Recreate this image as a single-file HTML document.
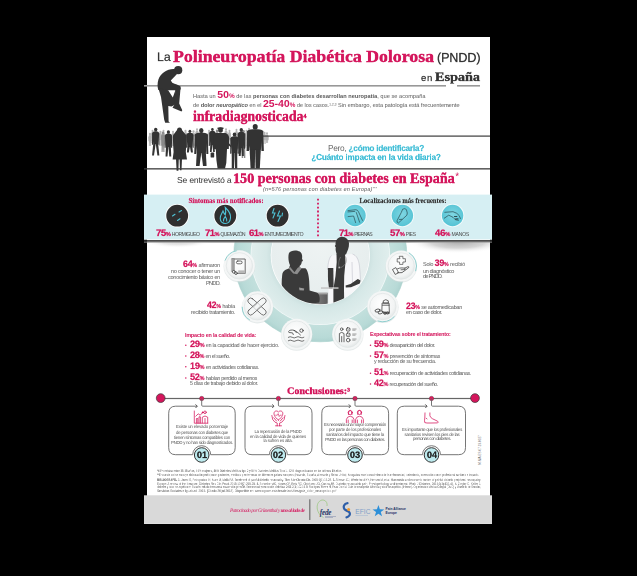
<!DOCTYPE html>
<html><head><meta charset="utf-8">
<style>
*{margin:0;padding:0;box-sizing:border-box}
html,body{width:637px;height:576px;background:#000;overflow:hidden}
body{position:relative;font-family:"Liberation Sans",sans-serif;color:#333}
svg.ov{position:absolute;left:0;top:0}
.a{position:absolute;white-space:nowrap;line-height:1;will-change:transform}
.pc{color:#d4165c;font-weight:bold;line-height:0}
.pc small{font-size:0.6em;letter-spacing:0}
sup{font-size:0.6em;vertical-align:0.5em;line-height:0}
b{font-weight:bold}
</style></head><body>
<svg class="ov" width="637" height="576" viewBox="0 0 637 576">
<defs>
<clipPath id="midclip"><rect x="144" y="241.5" width="348" height="130"/></clipPath>
<clipPath id="innerclip"><circle cx="320.3" cy="255.3" r="49"/></clipPath>
<radialGradient id="gInner" cx="0.5" cy="0.4" r="0.6"><stop offset="0" stop-color="#eef3f3"/><stop offset="0.85" stop-color="#e7eeee"/><stop offset="1" stop-color="#eef3f3"/></radialGradient>
<radialGradient id="gLight" cx="0.5" cy="0.5" r="0.5"><stop offset="0.70" stop-color="#cbe0df"/><stop offset="0.78" stop-color="#d6e8e7"/><stop offset="1" stop-color="#e0eeed"/></radialGradient>
<radialGradient id="gTeal" cx="0.5" cy="0.5" r="0.5"><stop offset="0.8" stop-color="#c3e0dd"/><stop offset="0.95" stop-color="#b8dad7"/><stop offset="1" stop-color="#aed3d0"/></radialGradient>
<radialGradient id="gIcon" cx="0.45" cy="0.4" r="0.6"><stop offset="0" stop-color="#ffffff"/><stop offset="0.8" stop-color="#f2f4f4"/><stop offset="1" stop-color="#e4e8e8"/></radialGradient>
<linearGradient id="gShadowL" x1="0" y1="0" x2="0" y2="1"><stop offset="0" stop-color="#bbb" stop-opacity="0.9"/><stop offset="1" stop-color="#fff" stop-opacity="0"/></linearGradient>
<linearGradient id="gBox" x1="0" y1="0" x2="1" y2="0"><stop offset="0" stop-color="#8a8a8a"/><stop offset="1" stop-color="#5d5d5d"/></linearGradient>
<radialGradient id="gCyan" cx="0.5" cy="0.45" r="0.55"><stop offset="0" stop-color="#7fd6e2"/><stop offset="1" stop-color="#55c3d4"/></radialGradient>
<radialGradient id="gSh" cx="0.5" cy="0.5" r="0.5"><stop offset="0" stop-color="#999" stop-opacity="0.85"/><stop offset="0.55" stop-color="#aaa" stop-opacity="0.5"/><stop offset="1" stop-color="#ffffff" stop-opacity="0"/></radialGradient>
<clipPath id="belowband"><rect x="147" y="242" width="343" height="20"/></clipPath>
</defs>
<rect x="147" y="37" width="343" height="459" fill="#fff"/>
<rect x="144" y="85" width="302" height="1.6" fill="#989898"/>
<rect x="457" y="85" width="23" height="1.6" fill="#989898"/>
<g fill="#333">
<circle cx="178.2" cy="70.2" r="4.1"/>
<path d="M175,69 C168,68.2 160.8,72.5 158.4,79.5 C157.3,83 157.3,87 158.3,90 L168.2,90.3 L175.5,90.3 L180.6,89.5 L180.6,86.5 C179,85 175,84 172.3,82.8 L170.8,80.5 L176.8,74.2 Z"/>
<path d="M158.3,88 L168.2,90.2 L172.8,97.6 L175.4,90.2 L175.4,104.5 L171.5,106.5 L168.3,106 L168.6,121.5 L170,122.8 L165.2,122.8 L164.2,119.8 L161,97 Z"/>
<path d="M175.2,90 L180.6,87.5 L179.2,103.5 L181,107.5 L182.3,110.3 L181.5,111.5 L172.5,107.8 L174.5,104.5 Z"/>
</g>
<ellipse cx="150" cy="134" rx="1.1" ry="1.265" fill="#b4b4b4"/><path d="M149.55,135.1 L150.45,135.1 Q151.5,135.5 151.5,137.29999999999998 L151.05,141 L148.95,141 L148.5,137.29999999999998 Q148.5,135.5 149.55,135.1 Z" fill="#b4b4b4"/><path d="M148.5,136.6 L148.35,141.295 L148.9,141.295 L149.0,137.6 Z" fill="#b4b4b4"/><path d="M151.5,136.6 L151.65,141.295 L151.1,141.295 L151.0,137.6 Z" fill="#b4b4b4"/><path d="M148.95,140.5 L150,140.5 L149.73749999999998,146 L148.9125,146 Z" fill="#b4b4b4"/><path d="M150,140.5 L151.05,140.5 L151.0875,146 L150.26250000000002,146 Z" fill="#b4b4b4"/>
<ellipse cx="160.5" cy="132" rx="1.1" ry="1.265" fill="#b4b4b4"/><path d="M160.02,133.1 L160.98,133.1 Q162.1,133.5 162.1,135.29999999999998 L161.62,140 L159.38,140 L158.9,135.29999999999998 Q158.9,133.5 160.02,133.1 Z" fill="#b4b4b4"/><path d="M158.9,134.6 L158.75,140.345 L159.3,140.345 L159.4,135.6 Z" fill="#b4b4b4"/><path d="M162.1,134.6 L162.25,140.345 L161.7,140.345 L161.6,135.6 Z" fill="#b4b4b4"/><path d="M159.38,139.5 L160.5,139.5 L160.22,146 L159.34,146 Z" fill="#b4b4b4"/><path d="M160.5,139.5 L161.62,139.5 L161.66,146 L160.78,146 Z" fill="#b4b4b4"/>
<ellipse cx="163.5" cy="131" rx="1" ry="1.15" fill="#b4b4b4"/><path d="M163.05,132.0 L163.95,132.0 Q165.0,132.4 165.0,134.2 L164.55,139 L162.45,139 L162.0,134.2 Q162.0,132.4 163.05,132.0 Z" fill="#b4b4b4"/><path d="M162.0,133.5 L161.85,139.35 L162.4,139.35 L162.5,134.5 Z" fill="#b4b4b4"/><path d="M165.0,133.5 L165.15,139.35 L164.6,139.35 L164.5,134.5 Z" fill="#b4b4b4"/><path d="M162.45,138.5 L163.5,138.5 L163.23749999999998,144 L162.4125,144 Z" fill="#b4b4b4"/><path d="M163.5,138.5 L164.55,138.5 L164.5875,144 L163.76250000000002,144 Z" fill="#b4b4b4"/>
<ellipse cx="185.5" cy="131" rx="1.1" ry="1.265" fill="#b4b4b4"/><path d="M185.02,132.1 L185.98,132.1 Q187.1,132.5 187.1,134.29999999999998 L186.62,140 L184.38,140 L183.9,134.29999999999998 Q183.9,132.5 185.02,132.1 Z" fill="#b4b4b4"/><path d="M183.9,133.6 L183.75,140.395 L184.3,140.395 L184.4,134.6 Z" fill="#b4b4b4"/><path d="M187.1,133.6 L187.25,140.395 L186.7,140.395 L186.6,134.6 Z" fill="#b4b4b4"/><path d="M184.38,139.5 L185.5,139.5 L185.22,147 L184.34,147 Z" fill="#b4b4b4"/><path d="M185.5,139.5 L186.62,139.5 L186.66,147 L185.78,147 Z" fill="#b4b4b4"/>
<ellipse cx="193.5" cy="131.5" rx="1.1" ry="1.265" fill="#b4b4b4"/><path d="M193.02,132.6 L193.98,132.6 Q195.1,133.0 195.1,134.79999999999998 L194.62,140 L192.38,140 L191.9,134.79999999999998 Q191.9,133.0 193.02,132.6 Z" fill="#b4b4b4"/><path d="M191.9,134.1 L191.75,140.37 L192.3,140.37 L192.4,135.1 Z" fill="#b4b4b4"/><path d="M195.1,134.1 L195.25,140.37 L194.7,140.37 L194.6,135.1 Z" fill="#b4b4b4"/><path d="M192.38,139.5 L193.5,139.5 L193.22,146 L192.34,146 Z" fill="#b4b4b4"/><path d="M193.5,139.5 L194.62,139.5 L194.66,146 L193.78,146 Z" fill="#b4b4b4"/>
<ellipse cx="264.5" cy="133" rx="1.1" ry="1.265" fill="#b4b4b4"/><path d="M264.02,134.1 L264.98,134.1 Q266.1,134.5 266.1,136.29999999999998 L265.62,140 L263.38,140 L262.9,136.29999999999998 Q262.9,134.5 264.02,134.1 Z" fill="#b4b4b4"/><path d="M262.9,135.6 L262.75,140.295 L263.29999999999995,140.295 L263.4,136.6 Z" fill="#b4b4b4"/><path d="M266.1,135.6 L266.25,140.295 L265.70000000000005,140.295 L265.6,136.6 Z" fill="#b4b4b4"/><path d="M263.38,139.5 L264.5,139.5 L264.21999999999997,144 L263.34,144 Z" fill="#b4b4b4"/><path d="M264.5,139.5 L265.62,139.5 L265.66,144 L264.78000000000003,144 Z" fill="#b4b4b4"/>
<ellipse cx="267" cy="133.5" rx="1" ry="1.15" fill="#b4b4b4"/><path d="M266.55,134.5 L267.45,134.5 Q268.5,134.9 268.5,136.7 L268.05,140 L265.95,140 L265.5,136.7 Q265.5,134.9 266.55,134.5 Z" fill="#b4b4b4"/><path d="M265.5,136.0 L265.35,140.275 L265.9,140.275 L266.0,137.0 Z" fill="#b4b4b4"/><path d="M268.5,136.0 L268.65,140.275 L268.1,140.275 L268.0,137.0 Z" fill="#b4b4b4"/><path d="M265.95,139.5 L267,139.5 L266.7375,143 L265.91249999999997,143 Z" fill="#b4b4b4"/><path d="M267,139.5 L268.05,139.5 L268.08750000000003,143 L267.2625,143 Z" fill="#b4b4b4"/>
<ellipse cx="173" cy="132" rx="1.0" ry="1.15" fill="#b4b4b4"/><path d="M172.55,133.0 L173.45,133.0 Q174.5,133.4 174.5,135.2 L174.05,140 L171.95,140 L171.5,135.2 Q171.5,133.4 172.55,133.0 Z" fill="#b4b4b4"/><path d="M171.5,134.5 L171.35,140.35 L171.9,140.35 L172.0,135.5 Z" fill="#b4b4b4"/><path d="M174.5,134.5 L174.65,140.35 L174.1,140.35 L174.0,135.5 Z" fill="#b4b4b4"/><path d="M171.95,139.5 L173,139.5 L172.73749999999998,146 L171.9125,146 Z" fill="#b4b4b4"/><path d="M173,139.5 L174.05,139.5 L174.0875,146 L173.26250000000002,146 Z" fill="#b4b4b4"/>
<ellipse cx="209" cy="131" rx="1.0" ry="1.15" fill="#b4b4b4"/><path d="M208.55,132.0 L209.45,132.0 Q210.5,132.4 210.5,134.2 L210.05,140 L207.95,140 L207.5,134.2 Q207.5,132.4 208.55,132.0 Z" fill="#b4b4b4"/><path d="M207.5,133.5 L207.35,140.4 L207.9,140.4 L208.0,134.5 Z" fill="#b4b4b4"/><path d="M210.5,133.5 L210.65,140.4 L210.1,140.4 L210.0,134.5 Z" fill="#b4b4b4"/><path d="M207.95,139.5 L209,139.5 L208.73749999999998,146 L207.9125,146 Z" fill="#b4b4b4"/><path d="M209,139.5 L210.05,139.5 L210.0875,146 L209.26250000000002,146 Z" fill="#b4b4b4"/>
<ellipse cx="229.5" cy="131" rx="1.0" ry="1.15" fill="#b4b4b4"/><path d="M229.05,132.0 L229.95,132.0 Q231.0,132.4 231.0,134.2 L230.55,140 L228.45,140 L228.0,134.2 Q228.0,132.4 229.05,132.0 Z" fill="#b4b4b4"/><path d="M228.0,133.5 L227.85,140.4 L228.4,140.4 L228.5,134.5 Z" fill="#b4b4b4"/><path d="M231.0,133.5 L231.15,140.4 L230.6,140.4 L230.5,134.5 Z" fill="#b4b4b4"/><path d="M228.45,139.5 L229.5,139.5 L229.23749999999998,146 L228.4125,146 Z" fill="#b4b4b4"/><path d="M229.5,139.5 L230.55,139.5 L230.5875,146 L229.76250000000002,146 Z" fill="#b4b4b4"/>
<ellipse cx="236.5" cy="130" rx="1.0" ry="1.15" fill="#b4b4b4"/><path d="M236.05,131.0 L236.95,131.0 Q238.0,131.4 238.0,133.2 L237.55,140 L235.45,140 L235.0,133.2 Q235.0,131.4 236.05,131.0 Z" fill="#b4b4b4"/><path d="M235.0,132.5 L234.85,140.45 L235.4,140.45 L235.5,133.5 Z" fill="#b4b4b4"/><path d="M238.0,132.5 L238.15,140.45 L237.6,140.45 L237.5,133.5 Z" fill="#b4b4b4"/><path d="M235.45,139.5 L236.5,139.5 L236.23749999999998,146 L235.4125,146 Z" fill="#b4b4b4"/><path d="M236.5,139.5 L237.55,139.5 L237.5875,146 L236.76250000000002,146 Z" fill="#b4b4b4"/>
<ellipse cx="246.5" cy="131" rx="1.0" ry="1.15" fill="#b4b4b4"/><path d="M246.05,132.0 L246.95,132.0 Q248.0,132.4 248.0,134.2 L247.55,140 L245.45,140 L245.0,134.2 Q245.0,132.4 246.05,132.0 Z" fill="#b4b4b4"/><path d="M245.0,133.5 L244.85,140.4 L245.4,140.4 L245.5,134.5 Z" fill="#b4b4b4"/><path d="M248.0,133.5 L248.15,140.4 L247.6,140.4 L247.5,134.5 Z" fill="#b4b4b4"/><path d="M245.45,139.5 L246.5,139.5 L246.23749999999998,146 L245.4125,146 Z" fill="#b4b4b4"/><path d="M246.5,139.5 L247.55,139.5 L247.5875,146 L246.76250000000002,146 Z" fill="#b4b4b4"/>
<ellipse cx="152.5" cy="131" rx="1.0" ry="1.15" fill="#b4b4b4"/><path d="M152.05,132.0 L152.95,132.0 Q154.0,132.4 154.0,134.2 L153.55,138 L151.45,138 L151.0,134.2 Q151.0,132.4 152.05,132.0 Z" fill="#b4b4b4"/><path d="M151.0,133.5 L150.85,138.3 L151.4,138.3 L151.5,134.5 Z" fill="#b4b4b4"/><path d="M154.0,133.5 L154.15,138.3 L153.6,138.3 L153.5,134.5 Z" fill="#b4b4b4"/><path d="M151.45,137.5 L152.5,137.5 L152.23749999999998,143 L151.4125,143 Z" fill="#b4b4b4"/><path d="M152.5,137.5 L153.55,137.5 L153.5875,143 L152.76250000000002,143 Z" fill="#b4b4b4"/>
<ellipse cx="197" cy="129.5" rx="1.0" ry="1.15" fill="#b4b4b4"/><path d="M196.55,130.5 L197.45,130.5 Q198.5,130.9 198.5,132.7 L198.05,137 L195.95,137 L195.5,132.7 Q195.5,130.9 196.55,130.5 Z" fill="#b4b4b4"/><path d="M195.5,132.0 L195.35,137.325 L195.9,137.325 L196.0,133.0 Z" fill="#b4b4b4"/><path d="M198.5,132.0 L198.65,137.325 L198.1,137.325 L198.0,133.0 Z" fill="#b4b4b4"/><path d="M195.95,136.5 L197,136.5 L196.73749999999998,142 L195.9125,142 Z" fill="#b4b4b4"/><path d="M197,136.5 L198.05,136.5 L198.0875,142 L197.26250000000002,142 Z" fill="#b4b4b4"/>
<ellipse cx="226" cy="129.5" rx="1.0" ry="1.15" fill="#b4b4b4"/><path d="M225.55,130.5 L226.45,130.5 Q227.5,130.9 227.5,132.7 L227.05,137 L224.95,137 L224.5,132.7 Q224.5,130.9 225.55,130.5 Z" fill="#b4b4b4"/><path d="M224.5,132.0 L224.35,137.325 L224.9,137.325 L225.0,133.0 Z" fill="#b4b4b4"/><path d="M227.5,132.0 L227.65,137.325 L227.1,137.325 L227.0,133.0 Z" fill="#b4b4b4"/><path d="M224.95,136.5 L226,136.5 L225.73749999999998,142 L224.9125,142 Z" fill="#b4b4b4"/><path d="M226,136.5 L227.05,136.5 L227.0875,142 L226.26250000000002,142 Z" fill="#b4b4b4"/>
<ellipse cx="249" cy="129" rx="1.0" ry="1.15" fill="#b4b4b4"/><path d="M248.55,130.0 L249.45,130.0 Q250.5,130.4 250.5,132.2 L250.05,137 L247.95,137 L247.5,132.2 Q247.5,130.4 248.55,130.0 Z" fill="#b4b4b4"/><path d="M247.5,131.5 L247.35,137.35 L247.9,137.35 L248.0,132.5 Z" fill="#b4b4b4"/><path d="M250.5,131.5 L250.65,137.35 L250.1,137.35 L250.0,132.5 Z" fill="#b4b4b4"/><path d="M247.95,136.5 L249,136.5 L248.73749999999998,142 L247.9125,142 Z" fill="#b4b4b4"/><path d="M249,136.5 L250.05,136.5 L250.0875,142 L249.26250000000002,142 Z" fill="#b4b4b4"/>
<ellipse cx="163" cy="133" rx="1.2" ry="1.38" fill="#8a8a8a"/><path d="M162.4,134.2 L163.6,134.2 Q165.0,134.6 165.0,136.39999999999998 L164.4,145 L161.6,145 L161.0,136.39999999999998 Q161.0,134.6 162.4,134.2 Z" fill="#8a8a8a"/><path d="M161.0,135.7 L160.832,145.54 L161.448,145.54 L161.56,136.7 Z" fill="#8a8a8a"/><path d="M165.0,135.7 L165.168,145.54 L164.552,145.54 L164.44,136.7 Z" fill="#8a8a8a"/><path d="M161.6,144.5 L163,144.5 L162.65,152 L161.54999999999998,152 Z" fill="#8a8a8a"/><path d="M163,144.5 L164.4,144.5 L164.45000000000002,152 L163.35,152 Z" fill="#8a8a8a"/>
<ellipse cx="217" cy="131" rx="1.2" ry="1.38" fill="#8a8a8a"/><path d="M216.4,132.2 L217.6,132.2 Q219.0,132.6 219.0,134.39999999999998 L218.4,143 L215.6,143 L215.0,134.39999999999998 Q215.0,132.6 216.4,132.2 Z" fill="#8a8a8a"/><path d="M215.0,133.7 L214.832,143.54 L215.448,143.54 L215.56,134.7 Z" fill="#8a8a8a"/><path d="M219.0,133.7 L219.168,143.54 L218.552,143.54 L218.44,134.7 Z" fill="#8a8a8a"/><path d="M215.6,142.5 L217,142.5 L216.65,150 L215.54999999999998,150 Z" fill="#8a8a8a"/><path d="M217,142.5 L218.4,142.5 L218.45000000000002,150 L217.35,150 Z" fill="#8a8a8a"/>
<ellipse cx="243.5" cy="131.5" rx="1.3" ry="1.4949999999999999" fill="#8a8a8a"/><path d="M242.75,132.8 L244.25,132.8 Q246.0,133.20000000000002 246.0,135.0 L245.25,147 L241.75,147 L241.0,135.0 Q241.0,133.20000000000002 242.75,132.8 Z" fill="#8a8a8a"/><path d="M241.0,134.3 L240.79,147.71 L241.56,147.71 L241.7,135.3 Z" fill="#8a8a8a"/><path d="M246.0,134.3 L246.21,147.71 L245.44,147.71 L245.3,135.3 Z" fill="#8a8a8a"/><path d="M241.75,146.5 L243.5,146.5 L243.0625,158 L241.6875,158 Z" fill="#8a8a8a"/><path d="M243.5,146.5 L245.25,146.5 L245.3125,158 L243.9375,158 Z" fill="#8a8a8a"/>
<ellipse cx="155.7" cy="129.6" rx="1.7" ry="1.9549999999999998" fill="#333"/><path d="M154.64999999999998,131.29999999999998 L156.75,131.29999999999998 Q159.2,131.7 159.2,133.49999999999997 L158.14999999999998,144 L153.25,144 L152.2,133.49999999999997 Q152.2,131.7 154.64999999999998,131.29999999999998 Z" fill="#333"/><path d="M152.2,132.79999999999998 L151.90599999999998,144.635 L152.98399999999998,144.635 L153.17999999999998,133.79999999999998 Z" fill="#333"/><path d="M159.2,132.79999999999998 L159.494,144.635 L158.416,144.635 L158.22,133.79999999999998 Z" fill="#333"/><path d="M153.25,143.5 L155.7,143.5 L153.98499999999999,155.5 L152.05999999999997,155.5 Z" fill="#333"/><path d="M155.7,143.5 L158.14999999999998,143.5 L159.34,155.5 L157.415,155.5 Z" fill="#333"/>
<ellipse cx="168.4" cy="132" rx="1.6" ry="1.8399999999999999" fill="#333"/><path d="M167.35,133.6 L169.45000000000002,133.6 Q171.9,134.0 171.9,135.79999999999998 L170.85,147 L165.95000000000002,147 L164.9,135.79999999999998 Q164.9,134.0 167.35,133.6 Z" fill="#333"/><path d="M164.9,135.1 L164.606,147.67000000000002 L165.684,147.67000000000002 L165.88,136.1 Z" fill="#333"/><path d="M171.9,135.1 L172.19400000000002,147.67000000000002 L171.116,147.67000000000002 L170.92000000000002,136.1 Z" fill="#333"/><path d="M165.95000000000002,146.5 L168.4,146.5 L167.47250000000003,156.5 L165.5475,156.5 Z" fill="#333"/><path d="M168.4,146.5 L170.85,146.5 L171.2525,156.5 L169.3275,156.5 Z" fill="#333"/>
<ellipse cx="179.5" cy="130.4" rx="2.5" ry="2.9" fill="#333"/>
<path d="M176.6,130.5 Q179.5,127.6 182.4,130.5 L184.8,133.5 Q186.6,134.5 186.6,137 L186.2,146 L185.8,152 L187,159.5 L172.6,159.5 L173.6,152 L173.2,146 L172.8,137 Q172.8,134.5 174.4,133.5 Z" fill="#333"/>
<path d="M176,159 L178.8,159 L178.4,170.8 L176.6,170.8 Z M179.6,159 L182,159 L181.5,170.3 L180,170.3 Z" fill="#333"/>
<ellipse cx="189.9" cy="131.3" rx="1.4" ry="1.6099999999999999" fill="#333"/><path d="M188.85,132.70000000000002 L190.95000000000002,132.70000000000002 Q193.4,133.10000000000002 193.4,134.9 L192.35,147 L187.45000000000002,147 L186.4,134.9 Q186.4,133.10000000000002 188.85,132.70000000000002 Z" fill="#333"/><path d="M186.4,134.20000000000002 L186.106,147.715 L187.184,147.715 L187.38,135.20000000000002 Z" fill="#333"/><path d="M193.4,134.20000000000002 L193.69400000000002,147.715 L192.616,147.715 L192.42000000000002,135.20000000000002 Z" fill="#333"/><path d="M187.45000000000002,146.5 L189.9,146.5 L188.815,152.5 L186.89,152.5 Z" fill="#333"/><path d="M189.9,146.5 L192.35,146.5 L192.91000000000003,152.5 L190.985,152.5 Z" fill="#333"/>
<ellipse cx="201.3" cy="130.6" rx="2.2" ry="2.53" fill="#333"/><path d="M199.35000000000002,132.79999999999998 L203.25,132.79999999999998 Q207.8,133.2 207.8,134.99999999999997 L205.85000000000002,153 L196.75,153 L194.8,134.99999999999997 Q194.8,133.2 199.35000000000002,132.79999999999998 Z" fill="#333"/><path d="M194.8,134.29999999999998 L194.25400000000002,154.01 L196.256,154.01 L196.62,135.29999999999998 Z" fill="#333"/><path d="M207.8,134.29999999999998 L208.346,154.01 L206.34400000000002,154.01 L205.98000000000002,135.29999999999998 Z" fill="#333"/><path d="M196.75,152.5 L201.3,152.5 L199.57750000000001,166 L196.00250000000003,166 Z" fill="#333"/><path d="M201.3,152.5 L205.85000000000002,152.5 L206.5975,166 L203.0225,166 Z" fill="#333"/>
<ellipse cx="212.4" cy="129.4" rx="1.3" ry="1.4949999999999999" fill="#333"/><path d="M211.5,130.70000000000002 L213.3,130.70000000000002 Q215.4,131.10000000000002 215.4,132.9 L214.5,145 L210.3,145 L209.4,132.9 Q209.4,131.10000000000002 211.5,130.70000000000002 Z" fill="#333"/><path d="M209.4,132.20000000000002 L209.148,145.715 L210.072,145.715 L210.24,133.20000000000002 Z" fill="#333"/><path d="M215.4,132.20000000000002 L215.65200000000002,145.715 L214.728,145.715 L214.56,133.20000000000002 Z" fill="#333"/><path d="M210.3,144.5 L212.4,144.5 L211.605,152 L209.955,152 Z" fill="#333"/><path d="M212.4,144.5 L214.5,144.5 L214.845,152 L213.19500000000002,152 Z" fill="#333"/>
<rect x="210.6" y="152.6" width="3.6" height="5" rx="0.9" fill="#333"/>
<ellipse cx="220.5" cy="130" rx="2.4" ry="2.7" fill="#333"/>
<rect x="217.3" y="127.4" width="6.4" height="1.5" rx="0.75" fill="#333"/>
<path d="M215.5,133 L225.5,133 Q228.8,134 229.2,138 L228.8,149 L227,149 L226.3,163 L225,168.5 L217.6,168.5 L216.4,160 L215.8,149 L213,149 L213.4,138 Q213.8,134 215.5,133 Z" fill="#333"/>
<ellipse cx="234.5" cy="134.5" rx="1.8" ry="2.07" fill="#333"/><path d="M233.3,136.3 L235.7,136.3 Q238.5,136.70000000000002 238.5,138.5 L237.3,153 L231.7,153 L230.5,138.5 Q230.5,136.70000000000002 233.3,136.3 Z" fill="#333"/><path d="M230.5,137.8 L230.164,153.835 L231.396,153.835 L231.62,138.8 Z" fill="#333"/><path d="M238.5,137.8 L238.836,153.835 L237.604,153.835 L237.38,138.8 Z" fill="#333"/><path d="M231.7,152.5 L234.5,152.5 L233.98,168.5 L231.78,168.5 Z" fill="#333"/><path d="M234.5,152.5 L237.3,152.5 L237.22,168.5 L235.02,168.5 Z" fill="#333"/>
<path d="M228.8,143 L231.5,146 L230.8,147.3 L228.2,145 Z" fill="#333"/>
<ellipse cx="241.3" cy="130" rx="1.7" ry="1.9549999999999998" fill="#333"/><path d="M240.25,131.7 L242.35000000000002,131.7 Q244.8,132.1 244.8,133.89999999999998 L243.75,148 L238.85000000000002,148 L237.8,133.89999999999998 Q237.8,132.1 240.25,131.7 Z" fill="#333"/><path d="M237.8,133.2 L237.506,148.815 L238.584,148.815 L238.78,134.2 Z" fill="#333"/><path d="M244.8,133.2 L245.09400000000002,148.815 L244.01600000000002,148.815 L243.82000000000002,134.2 Z" fill="#333"/><path d="M238.85000000000002,147.5 L241.3,147.5 L240.68750000000003,156 L238.76250000000002,156 Z" fill="#333"/><path d="M241.3,147.5 L243.75,147.5 L243.8375,156 L241.9125,156 Z" fill="#333"/>
<ellipse cx="255.2" cy="126.8" rx="2.5" ry="2.875" fill="#333"/><path d="M252.79999999999998,129.3 L257.59999999999997,129.3 Q263.2,129.70000000000002 263.2,131.5 L260.8,150 L249.6,150 L247.2,131.5 Q247.2,129.70000000000002 252.79999999999998,129.3 Z" fill="#333"/><path d="M247.2,130.8 L246.528,151.035 L248.992,151.035 L249.44,131.8 Z" fill="#333"/><path d="M263.2,130.8 L263.872,151.035 L261.408,151.035 L260.96,131.8 Z" fill="#333"/><path d="M249.6,149.5 L255.2,149.5 L254.77999999999997,168.5 L250.57999999999998,168.5 Z" fill="#333"/><path d="M255.2,149.5 L260.8,149.5 L259.82,168.5 L255.61999999999998,168.5 Z" fill="#333"/>
<rect x="263" y="135.5" width="227" height="1.2" fill="#3c3c3c"/>
<rect x="144" y="168.2" width="346" height="1.3" fill="#3c3c3c"/>
<g clip-path="url(#midclip)">
<circle cx="320.3" cy="255.3" r="86.5" fill="url(#gTeal)" stroke="#a9d1cd" stroke-width="0.6"/>
<circle cx="320.3" cy="255.3" r="69.7" fill="#f3f9f9"/>
<circle cx="320.3" cy="255.3" r="69" fill="url(#gLight)"/>
<circle cx="320.3" cy="255.3" r="49.6" fill="#ffffff"/>
<circle cx="320.3" cy="255.3" r="49" fill="url(#gInner)"/>
<g clip-path="url(#innerclip)">
<rect x="311.2" y="292.8" width="16.5" height="14" fill="url(#gBox)"/>
<rect x="311.2" y="292.8" width="16.5" height="1.6" fill="#a5a5a5"/>
<path d="M289,253 C290.5,250.2 296.5,249.6 299.8,251.6 C302.3,253.4 302.4,256.5 302,258.5 L303,261 L301.8,261.6 C301.6,263.6 301,265.3 299.5,266 L300.2,268.3 L305.4,268.3 C307.6,270 308.8,275 309.2,281 L309.6,290.5 L316.5,292.5 C319.8,293.3 320.3,299 319.2,302.5 L312,303.5 L300,303.5 L288,303 L284,302 C281.6,294 281.2,283 282.2,275 C282.8,271 285,269.8 288.8,268.6 L290,265.3 C288.5,262 287.8,256.5 289,253 Z" fill="#3a3a3a"/>
<path d="M289.8,266.5 L294.5,272.2 L297.5,268 L299.8,266.6 L301.5,268.6 L297.2,274.2 L293.2,273.5 L288.8,268.6 Z" fill="#8c8c8c"/>
<path d="M299,287.5 L304.2,288.6 L303.8,290.6 L299.5,290.3 Z" fill="#9a9a9a"/>
<path d="M331.5,255.5 L352.5,254 C356.5,255.5 358.5,259 359.5,266 L360.5,280 L359,289 L358.5,306 L329.3,306 L328.5,290 L327.7,270 C328,262 329.5,257.5 331.5,255.5 Z" fill="#f7f7f9"/>
<path d="M331.5,255.5 C329.5,257.5 328,262 327.7,270 M352.5,254 C356.5,255.5 358.5,259 359.5,266 L360.5,280 M359,289 L358.5,306 M352,262 L352.5,283" fill="none" stroke="#b9b9c4" stroke-width="0.5"/>
<path d="M336.5,254 L345,254 L345.5,262 L344.2,276 L344,289 L344.2,306 L333.4,306 L333.4,289 L335.5,276 L336.7,262 Z" fill="#3a3a3a"/>
<path d="M327.9,268 L333.3,268 L333.6,286.5 L331.8,288.8 L329,288.5 L328,280 Z" fill="#3a3a3a"/>
<path d="M357.8,279 L360.6,280.5 L359.8,283.5 L351,287.2 L345.8,287.6 L345.6,285.6 L350.5,284 Z" fill="#3a3a3a"/>
<rect x="321" y="287.3" width="17.5" height="1.5" fill="#c4c4c4"/>
<path d="M340.5,257 C338.2,261 338.5,265 339.2,267 M345.5,256.5 C347.5,261 346,265 341,267.5" fill="none" stroke="#8a8a8a" stroke-width="0.6"/>
<circle cx="339.3" cy="267.5" r="1.1" fill="#bdbdbd" stroke="#555" stroke-width="0.4"/>
</g>
</g>
<rect x="144" y="194.6" width="348" height="44.8" fill="#d6eff3"/>
<rect x="144" y="239.4" width="348" height="0.8" fill="#eef7f9"/>
<rect x="144" y="240.2" width="348" height="1.5" fill="#1e1e1e"/>
<rect x="144" y="241.7" width="348" height="0.9" fill="#8a8a8a"/>
<g clip-path="url(#belowband)"><ellipse cx="178" cy="241" rx="34" ry="7" fill="url(#gSh)" opacity="0.55"/><ellipse cx="458" cy="241.5" rx="50" ry="12" fill="url(#gSh)" opacity="1"/></g>
<path d="M336.8,254.5 C336,252 335.2,249 335.8,247.5 L334.8,246 L335.6,244.8 C335.3,241 337,237.5 341,236.9 C345.5,236.4 348.8,239.5 349,243.5 C349.2,247.5 347.5,251 346,254.5 Z" fill="#3a3a3a"/>
<line x1="318" y1="198.7" x2="318" y2="237" stroke="#d4165c" stroke-width="1.8" stroke-dasharray="1.8 2.17"/>
<circle cx="177.2" cy="215.7" r="11.8" fill="#fff"/>
<circle cx="177.2" cy="215.7" r="10.9" fill="#2f2f2f"/>
<circle cx="225.3" cy="215.7" r="11.8" fill="#fff"/>
<circle cx="225.3" cy="215.7" r="10.9" fill="#2f2f2f"/>
<circle cx="277.6" cy="215.7" r="11.8" fill="#fff"/>
<circle cx="277.6" cy="215.7" r="10.9" fill="#2f2f2f"/>
<g stroke="#4fc3d6" stroke-width="1.1" stroke-linecap="round" fill="none">
<line x1="172.5" y1="216" x2="175" y2="214.3"/><line x1="179" y1="212" x2="181.5" y2="210.6"/><line x1="177.5" y1="220.5" x2="180" y2="218.8"/>
<path d="M225.3,207.5 C229,211 231,214 230.5,218 C230,222 227.5,223.5 225.3,223.5 C222.5,223.5 220.2,221.5 220.2,218.3 C220.2,215 222,213.5 223,211 C224,213.5 224.5,214.5 225.3,215 C226,212 225.8,210 225.3,207.5 Z"/>
<path d="M223.5,221 C223,219 224.5,217.5 225.3,216.5 C226.3,218 227.2,219.5 226.7,221"/>
<path d="M274,208.5 L272.5,213 L275,213 L273,218 M279.5,211 L277.5,216 L280.5,216 L278,221.5 M282.5,213 L282,216"/>
</g>
<circle cx="355" cy="215.5" r="11.7" fill="#f2fafb"/>
<circle cx="355" cy="215.5" r="10.7" fill="url(#gCyan)"/>
<circle cx="402.4" cy="215.5" r="11.7" fill="#f2fafb"/>
<circle cx="402.4" cy="215.5" r="10.7" fill="url(#gCyan)"/>
<circle cx="452.6" cy="215.5" r="11.7" fill="#f2fafb"/>
<circle cx="452.6" cy="215.5" r="10.7" fill="url(#gCyan)"/>
<g stroke="#2a4a50" stroke-width="0.7" fill="none" stroke-linecap="round" stroke-linejoin="round">
<path d="M348,210.6 L355.8,209.7 Q357.6,209.8 358.5,211.8 L362.5,220.4 M356.3,212.5 L359.6,222.2 M348,211.9 L354.8,211.4 M348.1,216.6 L353.6,216 L355.6,222.6"/>
<path d="M403,209 Q405,207.8 406.4,209.6 L407.3,213 L406.9,215.2 L398.4,223 Q396.5,222.5 397.1,220.6 L401,213 Z M399.5,219.5 L402,219.3"/>
<path d="M444.8,212.3 L453,211.7 Q457.5,213 459.2,215.6 L460.4,218.6 M444.3,218.2 L448.7,215.2 L453,217.3 L455.5,219.8 L458.5,220.3"/>
<path d="M454.5,216.5 L456.8,216.5 M455.5,219.2 L458,218.8" stroke-width="1.2"/>
</g>
<circle cx="239.4" cy="266.6" r="15.8" fill="#cfd9d9" opacity="0.55"/>
<circle cx="239.4" cy="265.8" r="15.5" fill="#f4f6f6"/>
<circle cx="239.4" cy="265.8" r="13.2" fill="url(#gIcon)" stroke="#e1e6e6" stroke-width="0.8"/>
<circle cx="257.5" cy="307.6" r="15.8" fill="#cfd9d9" opacity="0.55"/>
<circle cx="257.5" cy="306.8" r="15.5" fill="#f4f6f6"/>
<circle cx="257.5" cy="306.8" r="13.2" fill="url(#gIcon)" stroke="#e1e6e6" stroke-width="0.8"/>
<circle cx="296.7" cy="335.0" r="15.8" fill="#cfd9d9" opacity="0.55"/>
<circle cx="296.7" cy="334.2" r="15.5" fill="#f4f6f6"/>
<circle cx="296.7" cy="334.2" r="13.2" fill="url(#gIcon)" stroke="#e1e6e6" stroke-width="0.8"/>
<circle cx="347.7" cy="335.0" r="15.8" fill="#cfd9d9" opacity="0.55"/>
<circle cx="347.7" cy="334.2" r="15.5" fill="#f4f6f6"/>
<circle cx="347.7" cy="334.2" r="13.2" fill="url(#gIcon)" stroke="#e1e6e6" stroke-width="0.8"/>
<circle cx="382.8" cy="307.3" r="15.8" fill="#cfd9d9" opacity="0.55"/>
<circle cx="382.8" cy="306.5" r="15.5" fill="#f4f6f6"/>
<circle cx="382.8" cy="306.5" r="13.2" fill="url(#gIcon)" stroke="#e1e6e6" stroke-width="0.8"/>
<circle cx="401.2" cy="266.8" r="15.8" fill="#cfd9d9" opacity="0.55"/>
<circle cx="401.2" cy="266" r="15.5" fill="#f4f6f6"/>
<circle cx="401.2" cy="266" r="13.2" fill="url(#gIcon)" stroke="#e1e6e6" stroke-width="0.8"/>
<path d="M225.02,260.57 A15.3,15.3 0 0 1 236.74,250.73" fill="none" stroke="#8fcfcf" stroke-width="1"/>
<path d="M408.85,252.75 A15.3,15.3 0 0 1 415.58,271.23" fill="none" stroke="#8fcfcf" stroke-width="1"/>
<path d="M394.52,316.33 A15.3,15.3 0 0 1 377.57,320.88" fill="none" stroke="#8fcfcf" stroke-width="1"/>
<path d="M249.85,320.05 A15.3,15.3 0 0 1 242.20,306.80" fill="none" stroke="#8fcfcf" stroke-width="1"/>
<g stroke="#3a3a3a" stroke-width="0.75" fill="none" stroke-linejoin="round" stroke-linecap="round">
<path d="M232.2,259 L245.2,259 L245.2,273.5 L234.5,273.5" />
<rect x="231.8" y="258.6" width="2.6" height="13" fill="#a0a0a0" stroke="#6a6a6a" stroke-width="0.4"/>
<rect x="238.2" y="270.4" width="7" height="3.1" fill="#b8b8b8" stroke="none"/>
<rect x="236.4" y="261" width="5.7" height="2.8" rx="1.4"/>
<circle cx="233.8" cy="271.8" r="1.4" fill="#f4f6f6"/><circle cx="236" cy="273.2" r="1.3" fill="#f4f6f6"/>
<g transform="translate(257,306.5)">
<rect x="-11.3" y="-2.8" width="22.6" height="5.6" rx="2.8" transform="rotate(42)" fill="#f4f6f6" stroke="#555" stroke-width="0.75"/>
<rect x="-11.3" y="-2.8" width="22.6" height="5.6" rx="2.8" transform="rotate(-42)" fill="#f4f6f6" stroke="#555" stroke-width="0.75"/>
<rect x="-3" y="-2" width="6" height="4" transform="rotate(-42)" fill="none" stroke="#aaa" stroke-width="0.4" stroke-dasharray="0.6 0.6"/>
</g>
<circle cx="301.5" cy="330.6" r="1.7"/>
<path d="M288.5,331.4 C289,329.8 292.5,329.8 294,330.3 C295.8,331 298,332.5 300.5,335 M289,332.5 L292.6,332.9 L293.3,334.6 M294,330.3 L296.5,332.8" />
<path d="M288.3,337.3 Q290.2,336 292.2,337.3 T296.1,337.3 T300,337.3 T303.9,337.3 M288.3,340.7 Q290.2,339.4 292.2,340.7 T296.1,340.7 T300,340.7 T303.9,340.7" stroke-width="0.7"/>
<circle cx="341.7" cy="329.2" r="1.3"/>
<path d="M339.4,341.8 L339.4,333.5 Q341.7,331.2 344,333.5 L344,341.8 M341.7,336.5 L341.7,341.8"/>
<rect x="346.4" y="327.8" width="3.6" height="3.4" rx="1.2"/><rect x="346.4" y="333" width="3.6" height="3.6" rx="1.2"/><circle cx="348.2" cy="340.1" r="1.8"/>
<path d="M347.2,329.6 L348,330.4 L349.5,328.6 M347.2,334.9 L348,335.7 L349.5,333.9" stroke-width="0.45"/>
<path d="M352.3,329 L356.5,329 M352.3,330.2 L355.5,330.2 M352.3,334 L356.5,334 M352.3,335.2 L355.5,335.2 M352.3,339 L356.5,339 M352.3,340.2 L355.5,340.2" stroke="#8a8a8a" stroke-width="0.8" stroke-linecap="butt"/>
<path d="M383.3,302.8 L383.3,300.8 Q385.8,298.6 388.3,300.8 L388.3,302.8 Z M382.5,303 L389,303 L389.4,312.3 L382.2,312.3 Z M382.5,305.2 L389.2,305.2"/>
<ellipse cx="377.5" cy="310.5" rx="2.6" ry="1.4" transform="rotate(-15 377.5 310.5)" fill="#f4f6f6"/>
<ellipse cx="380.5" cy="312.4" rx="2.6" ry="1.4" transform="rotate(-15 380.5 312.4)" fill="#f4f6f6"/>
<ellipse cx="385" cy="313.2" rx="1.5" ry="1.1" fill="#777"/><ellipse cx="387.6" cy="313" rx="1.5" ry="1.1" fill="#777"/>
<path d="M399.6,256.3 L402.9,256.3 L402.9,258.7 L405.4,258.7 L405.4,262 L402.9,262 L402.9,264.4 L399.6,264.4 L399.6,262 L397.2,262 L397.2,258.7 L399.6,258.7 Z" stroke-width="0.65"/>
<path d="M397.5,268.8 Q399.5,267.8 402,267.9 L404.8,268.2 Q406,268.7 405,269.6 L401,269.8 M397.5,272.8 L402,272.6 L408.6,267.8 Q409.5,266.6 408,266.6 L404.6,268.2"/>
<path d="M392.8,269.3 L395.8,267.6 L398.6,272.6 L395.6,274.3 Z"/>
</g>
<circle cx="185.8" cy="345.3" r="0.75" fill="#d4165c"/>
<circle cx="185.8" cy="356" r="0.75" fill="#d4165c"/>
<circle cx="185.8" cy="366.7" r="0.75" fill="#d4165c"/>
<circle cx="185.8" cy="378" r="0.75" fill="#d4165c"/>
<circle cx="370.5" cy="345.2" r="0.75" fill="#d4165c"/>
<circle cx="370.5" cy="355.9" r="0.75" fill="#d4165c"/>
<circle cx="370.5" cy="373.2" r="0.75" fill="#d4165c"/>
<circle cx="370.5" cy="383.9" r="0.75" fill="#d4165c"/>
<rect x="160" y="397.9" width="316" height="1.2" fill="#666"/>
<circle cx="160.7" cy="398.1" r="4.4" fill="#d4165c" stroke="#3a3a3a" stroke-width="0.7"/>
<circle cx="475" cy="398.1" r="4.4" fill="#d4165c" stroke="#3a3a3a" stroke-width="0.7"/>
<circle cx="201.7" cy="398.5" r="2.2" fill="#e8155c" stroke="#3a3a3a" stroke-width="0.4"/>
<path d="M201.7,398.1 L201.7,405.2 Q201.7,406.2 202.7,406.2 L228.2,406.2 Q235.2,406.2 235.2,413.2 L235.2,447.7 Q235.2,454.7 228.2,454.7 L210.7,454.7 A9,9 0 0 0 192.7,454.7 L175.7,454.7 Q168.7,454.7 168.7,447.7 L168.7,413.2 Q168.7,406.2 175.7,406.2 L197.2,406.2" fill="none" stroke="#666" stroke-width="0.9"/>
<path d="M195.5,404.4 L197.29999999999998,406.2 L195.5,408.0" fill="none" stroke="#333" stroke-width="0.8"/>
<circle cx="201.7" cy="455.0" r="7.3" fill="#bdeaee" stroke="#333" stroke-width="1"/>
<circle cx="278.4" cy="398.5" r="2.2" fill="#e8155c" stroke="#3a3a3a" stroke-width="0.4"/>
<path d="M278.4,398.1 L278.4,405.2 Q278.4,406.2 279.4,406.2 L305,406.2 Q312,406.2 312,413.2 L312,447.7 Q312,454.7 305,454.7 L287.4,454.7 A9,9 0 0 0 269.4,454.7 L252,454.7 Q245,454.7 245,447.7 L245,413.2 Q245,406.2 252,406.2 L273.9,406.2" fill="none" stroke="#666" stroke-width="0.9"/>
<path d="M272.2,404.4 L274.0,406.2 L272.2,408.0" fill="none" stroke="#333" stroke-width="0.8"/>
<circle cx="278.4" cy="455.0" r="7.3" fill="#bdeaee" stroke="#333" stroke-width="1"/>
<circle cx="355" cy="398.5" r="2.2" fill="#e8155c" stroke="#3a3a3a" stroke-width="0.4"/>
<path d="M355,398.1 L355,405.2 Q355,406.2 356,406.2 L381.6,406.2 Q388.6,406.2 388.6,413.2 L388.6,447.7 Q388.6,454.7 381.6,454.7 L364,454.7 A9,9 0 0 0 346,454.7 L328.8,454.7 Q321.8,454.7 321.8,447.7 L321.8,413.2 Q321.8,406.2 328.8,406.2 L350.5,406.2" fill="none" stroke="#666" stroke-width="0.9"/>
<path d="M348.8,404.4 L350.6,406.2 L348.8,408.0" fill="none" stroke="#333" stroke-width="0.8"/>
<circle cx="355" cy="455.0" r="7.3" fill="#bdeaee" stroke="#333" stroke-width="1"/>
<circle cx="431.5" cy="398.5" r="2.2" fill="#e8155c" stroke="#3a3a3a" stroke-width="0.4"/>
<path d="M431.5,398.1 L431.5,405.2 Q431.5,406.2 432.5,406.2 L458.5,406.2 Q465.5,406.2 465.5,413.2 L465.5,447.7 Q465.5,454.7 458.5,454.7 L440.5,454.7 A9,9 0 0 0 422.5,454.7 L404.3,454.7 Q397.3,454.7 397.3,447.7 L397.3,413.2 Q397.3,406.2 404.3,406.2 L427.0,406.2" fill="none" stroke="#666" stroke-width="0.9"/>
<path d="M425.3,404.4 L427.1,406.2 L425.3,408.0" fill="none" stroke="#333" stroke-width="0.8"/>
<circle cx="431.5" cy="455.0" r="7.3" fill="#bdeaee" stroke="#333" stroke-width="1"/>
<g stroke="#d4165c" stroke-width="0.75" fill="none" stroke-linecap="round" stroke-linejoin="round">
<path d="M194.3,411 L194.3,423.2 L207.8,423.2 M196.4,423 L196.4,418.5 L197.8,418.5 L197.8,423 M199,423 L199,416.8 L200.4,416.8 L200.4,423 M195.8,416.2 L198.2,413.8 L200.2,415.2 L202.6,412.6"/>
<circle cx="205" cy="412.3" r="1.3"/>
<path d="M202.3,423 L202.3,417.2 Q205,414.8 207.7,417.2 L207.7,423 M205,418.5 L205,423"/>
<circle cx="202.8" cy="412.4" r="0.6" fill="#d4165c"/>
<path d="M278.4,420 C272.8,416.2 273,411.2 276.2,411 C277.4,410.9 278.1,411.6 278.4,412.2 C278.7,411.6 279.4,410.9 280.6,411 C283.8,411.2 284,416.2 278.4,420 Z"/>
<path d="M275.6,415.2 L277.3,415.2 L278.2,413.6 L279.2,416.6 L280,415.2 L281.3,415.2" stroke-width="0.6"/>
<path d="M271.8,415.5 Q272,420.5 275,422.2 L277.2,423 L277.2,425.8 M285,415.5 Q284.8,420.5 281.8,422.2 L279.6,423 L279.6,425.8 M273.8,417.8 L276.5,421 M283,417.8 L280.3,421 M275.5,425.8 L278,425.8 M279,425.8 L281.5,425.8"/>
<circle cx="350.2" cy="412.6" r="2.1"/><circle cx="359.5" cy="412.4" r="2.1"/>
<path d="M346.4,422.6 L346.4,419.5 Q347,416.5 350.2,416.2 Q353.4,416.5 354,419.5 L354,422.6 M348.2,422.6 L348.2,420 M352.2,422.6 L352.2,420 M348.4,414.5 Q348,411 350.2,410.4 Q352.4,411 352,414.5"/>
<path d="M355.6,422.6 L355.6,419.5 Q356.2,416.5 359.5,416.2 Q362.8,416.5 363.4,419.5 L363.4,422.6 M357.4,422.6 L357.4,420 M361.6,422.6 L361.6,420 M357.7,414.5 Q357.3,411 359.5,410.2 Q361.7,411 361.3,414.5"/>
<path d="M425,412.9 L424.8,418 Q424.2,421 424.8,422.6 Q426,423.2 431,423 L437.6,422.9 Q439,422.2 437.6,421.2 L432.6,418.8 Q430.4,417.6 429.9,415.8 L429.9,412.9 M426.2,418.2 L427,418.9"/>
</g>
<text x="480.6" y="464.8" transform="rotate(-90 480.6 464.8)" font-family="Liberation Sans" font-size="3.2" fill="#6a6a6a" textLength="29.5" lengthAdjust="spacingAndGlyphs">M-N/A-ES-07-19-0027</text>
<rect x="144" y="495.3" width="348" height="28.5" fill="#d9d9d9"/>
<rect x="144" y="523" width="348" height="0.8" fill="#ececec"/>
<rect x="309.2" y="499.3" width="1.2" height="20.7" fill="#6e6e6e"/>
<path d="M323.5,517.5 C318.5,515 316.2,509 317.5,504.5 C318.5,501 321.5,499.5 324,500.2 C326.5,501 327.5,503.5 327,506" fill="none" stroke="#8cc26a" stroke-width="0.6"/>
<text x="319.8" y="515.2" font-family="Liberation Serif" font-style="italic" font-weight="bold" font-size="7.2" fill="#27386a" letter-spacing="-0.2">fede</text>
<rect x="325" y="516.3" width="11" height="0.5" fill="#7a86a8"/><rect x="325" y="517.5" width="8" height="0.5" fill="#7a86a8"/>
<path d="M347.5,503.2 C344,503.5 342.8,507 344.6,509.3 C346,511 348.5,510.8 349.5,512.5 C350.6,514.5 349,517 346.5,517.3" fill="none" stroke="#2d5ea8" stroke-width="2.2" stroke-linecap="round"/>
<circle cx="348.6" cy="509.6" r="1.5" fill="#f39a2a"/>
<text x="355.2" y="514" font-family="Liberation Sans" font-size="6.6" fill="#7f9fc8" letter-spacing="0.1">EFIC</text>
<rect x="355.5" y="515.4" width="12.5" height="0.5" fill="#9fb4d0"/>
<polygon points="378.40,505.10 379.87,509.28 384.30,509.38 380.78,512.07 382.04,516.32 378.40,513.80 374.76,516.32 376.02,512.07 372.50,509.38 376.93,509.28" fill="#2c8fd8"/>
<text x="385.5" y="509.8" font-family="Liberation Sans" font-weight="bold" font-size="3.3" fill="#1d2f66">Pain Alliance</text>
<text x="385.5" y="513.8" font-family="Liberation Sans" font-weight="bold" font-size="3.3" fill="#1d2f66">Europe</text>
</svg>
<div class="a" style="left:156.50px;top:41.40px;font-family:'Liberation Sans',sans-serif;font-size:24.600px;font-weight:normal;color:#333;letter-spacing:0.000px;transform:translateX(0) scale(0.50000,0.50000);transform-origin:0 20px;-webkit-text-stroke:0.400px currentColor;">La</div>
<div class="a" style="left:173.00px;top:33.60px;font-family:'Liberation Serif',serif;font-size:33.600px;font-weight:bold;color:#d4165c;letter-spacing:0.000px;transform:translateX(0) scale(0.52929,0.50000);transform-origin:0 28px;-webkit-text-stroke:0.900px currentColor;">Polineuropatía Diabética Dolorosa</div>
<div class="a" style="left:436.50px;top:40.80px;font-family:'Liberation Sans',sans-serif;font-size:25.000px;font-weight:normal;color:#333;letter-spacing:-0.083px;transform:translateX(0) scale(0.50000,0.50000);transform-origin:0 21px;-webkit-text-stroke:0.600px currentColor;">(PNDD)</div>
<div class="a" style="left:420.50px;top:64.60px;font-family:'Liberation Sans',sans-serif;font-size:19.000px;font-weight:normal;color:#333;letter-spacing:1.430px;transform:translateX(0) scale(0.50000,0.50000);transform-origin:0 16px;-webkit-text-stroke:0.500px currentColor;">en</div>
<div class="a" style="left:434.50px;top:59.60px;font-family:'Liberation Serif',serif;font-size:25.000px;font-weight:bold;color:#333;letter-spacing:0.000px;transform:translateX(0) scale(0.56805,0.50000);transform-origin:0 21px;-webkit-text-stroke:0.700px currentColor;">España</div>
<div class="a" style="left:193.00px;top:89.40px;font-family:'Liberation Sans',sans-serif;font-size:11.200px;font-weight:normal;color:#575757;letter-spacing:0.079px;transform:translateX(0) scale(0.50000,0.50000);transform-origin:0 9px;">Hasta un <b class="pc" style="font-size:21.000px">50<small>%</small></b> de las <b>personas con diabetes desarrollan neuropatía</b>, que se acompaña</div>
<div class="a" style="left:193.00px;top:98.30px;font-family:'Liberation Sans',sans-serif;font-size:11.200px;font-weight:normal;color:#575757;letter-spacing:-0.047px;transform:translateX(0) scale(0.50000,0.50000);transform-origin:0 9px;">de <b>dolor <i>neuropático</i></b> en el <b class="pc" style="font-size:21.000px">25-40<small>%</small></b> de los casos.<sup>1,2,3</sup> Sin embargo, esta patología está frecuentemente</div>
<div class="a" style="left:193.00px;top:97.00px;font-family:'Liberation Serif',serif;font-size:29.000px;font-weight:bold;color:#d4165c;letter-spacing:0.000px;transform:translateX(0) scale(0.47583,0.50000);transform-origin:0 24px;-webkit-text-stroke:0.800px currentColor;">infradiagnosticada<sup style="font-size:13.000px">4</sup></div>
<div class="a" style="left:376.00px;top:136.60px;font-family:'Liberation Sans',sans-serif;font-size:16.400px;font-weight:bold;color:#3ebdd6;letter-spacing:-0.463px;transform:translateX(-50%) scale(0.50000,0.50000);transform-origin:50% 14px;-webkit-text-stroke:0.400px currentColor;"><span style="color:#666;font-weight:normal;-webkit-text-stroke:0">Pero, </span>¿cómo identificarla?</div>
<div class="a" style="left:376.00px;top:146.40px;font-family:'Liberation Sans',sans-serif;font-size:16.400px;font-weight:bold;color:#3ebdd6;letter-spacing:-0.339px;transform:translateX(-50%) scale(0.50000,0.50000);transform-origin:50% 14px;-webkit-text-stroke:0.400px currentColor;">¿Cuánto impacta en la vida diaria?</div>
<div class="a" style="left:177.00px;top:169.00px;font-family:'Liberation Sans',sans-serif;font-size:17.000px;font-weight:normal;color:#333;letter-spacing:-0.294px;transform:translateX(0) scale(0.50000,0.50000);transform-origin:0 14px;">Se entrevistó a</div>
<div class="a" style="left:233.00px;top:159.20px;font-family:'Liberation Serif',serif;font-size:29.200px;font-weight:bold;color:#d4165c;letter-spacing:0.000px;transform:translateX(0) scale(0.48399,0.50000);transform-origin:0 24px;-webkit-text-stroke:0.900px currentColor;">150 personas con diabetes en España<sup style="font-size:20.000px;font-family:Liberation Sans;font-weight:normal;-webkit-text-stroke:0;vertical-align:0.35em;margin-left:1.000px">*</sup></div>
<div class="a" style="left:263.00px;top:181.60px;font-family:'Liberation Sans',sans-serif;font-size:10.800px;font-weight:normal;color:#555;letter-spacing:0.439px;transform:translateX(0) scale(0.50000,0.50000);transform-origin:0 9px;font-style:italic">(n=576 personas con diabetes en Europa)<sup>***</sup></div>
<div class="a" style="left:225.50px;top:190.80px;font-family:'Liberation Serif',serif;font-size:14.400px;font-weight:bold;color:#d4165c;letter-spacing:0.000px;transform:translateX(-50%) scale(0.46665,0.50000);transform-origin:50% 12px;-webkit-text-stroke:0.400px currentColor;">Síntomas más notificados:</div>
<div class="a" style="left:402.50px;top:190.80px;font-family:'Liberation Serif',serif;font-size:14.400px;font-weight:bold;color:#333;letter-spacing:0.000px;transform:translateX(-50%) scale(0.45990,0.50000);transform-origin:50% 12px;-webkit-text-stroke:0.400px currentColor;">Localizaciones más frecuentes:</div>
<div class="a" style="left:156.30px;top:228.00px;font-family:'Liberation Sans',sans-serif;font-size:10.200px;font-weight:normal;color:#4a4a4a;letter-spacing:-0.950px;transform:translateX(0) scale(0.50000,0.50000);transform-origin:0 8px;"><b class="pc" style="font-size:19.200px;-webkit-text-stroke:0.500px #d4165c">75<small>%</small></b> HORMIGUEO</div>
<div class="a" style="left:205.30px;top:228.00px;font-family:'Liberation Sans',sans-serif;font-size:10.200px;font-weight:normal;color:#4a4a4a;letter-spacing:-1.208px;transform:translateX(0) scale(0.50000,0.50000);transform-origin:0 8px;"><b class="pc" style="font-size:19.200px;-webkit-text-stroke:0.500px #d4165c">71<small>%</small></b> QUEMAZÓN</div>
<div class="a" style="left:248.60px;top:228.00px;font-family:'Liberation Sans',sans-serif;font-size:10.200px;font-weight:normal;color:#4a4a4a;letter-spacing:-1.122px;transform:translateX(0) scale(0.50000,0.50000);transform-origin:0 8px;"><b class="pc" style="font-size:19.200px;-webkit-text-stroke:0.500px #d4165c">61<small>%</small></b> ENTUMECIMIENTO</div>
<div class="a" style="left:338.80px;top:228.30px;font-family:'Liberation Sans',sans-serif;font-size:10.200px;font-weight:normal;color:#4a4a4a;letter-spacing:-1.315px;transform:translateX(0) scale(0.50000,0.50000);transform-origin:0 8px;"><b class="pc" style="font-size:19.200px;-webkit-text-stroke:0.500px #d4165c">71<small>%</small></b> PIERNAS</div>
<div class="a" style="left:389.80px;top:228.30px;font-family:'Liberation Sans',sans-serif;font-size:10.200px;font-weight:normal;color:#4a4a4a;letter-spacing:-0.949px;transform:translateX(0) scale(0.50000,0.50000);transform-origin:0 8px;"><b class="pc" style="font-size:19.200px;-webkit-text-stroke:0.500px #d4165c">57<small>%</small></b> PIES</div>
<div class="a" style="left:435.40px;top:228.30px;font-family:'Liberation Sans',sans-serif;font-size:10.200px;font-weight:normal;color:#4a4a4a;letter-spacing:-0.474px;transform:translateX(0) scale(0.50000,0.50000);transform-origin:0 8px;"><b class="pc" style="font-size:19.200px;-webkit-text-stroke:0.500px #d4165c">46<small>%</small></b> MANOS</div>
<div class="a" style="left:220.00px;top:257.60px;font-family:'Liberation Sans',sans-serif;font-size:11.000px;font-weight:normal;color:#575757;letter-spacing:-0.374px;transform:translateX(-100%) scale(0.50000,0.50000);transform-origin:100% 9px;"><b class="pc" style="font-size:17.600px;-webkit-text-stroke:0.400px #d4165c">64<small>%</small></b> afirmaron</div>
<div class="a" style="left:220.00px;top:264.10px;font-family:'Liberation Sans',sans-serif;font-size:11.000px;font-weight:normal;color:#575757;letter-spacing:-0.430px;transform:translateX(-100%) scale(0.50000,0.50000);transform-origin:100% 9px;">no conocer o tener un</div>
<div class="a" style="left:220.00px;top:270.20px;font-family:'Liberation Sans',sans-serif;font-size:11.000px;font-weight:normal;color:#575757;letter-spacing:-0.499px;transform:translateX(-100%) scale(0.50000,0.50000);transform-origin:100% 9px;">conocimiento básico en</div>
<div class="a" style="left:220.00px;top:275.60px;font-family:'Liberation Sans',sans-serif;font-size:11.000px;font-weight:normal;color:#575757;letter-spacing:-1.247px;transform:translateX(-100%) scale(0.50000,0.50000);transform-origin:100% 9px;">PNDD.</div>
<div class="a" style="left:235.00px;top:299.00px;font-family:'Liberation Sans',sans-serif;font-size:11.000px;font-weight:normal;color:#575757;letter-spacing:-0.444px;transform:translateX(-100%) scale(0.50000,0.50000);transform-origin:100% 9px;"><b class="pc" style="font-size:17.600px;-webkit-text-stroke:0.400px #d4165c">42<small>%</small></b> había</div>
<div class="a" style="left:235.00px;top:305.40px;font-family:'Liberation Sans',sans-serif;font-size:11.000px;font-weight:normal;color:#575757;letter-spacing:-0.556px;transform:translateX(-100%) scale(0.50000,0.50000);transform-origin:100% 9px;">recibido tratamiento.</div>
<div class="a" style="left:422.50px;top:257.20px;font-family:'Liberation Sans',sans-serif;font-size:11.000px;font-weight:normal;color:#575757;letter-spacing:-0.368px;transform:translateX(0) scale(0.50000,0.50000);transform-origin:0 9px;">Solo <b class="pc" style="font-size:17.600px;-webkit-text-stroke:0.400px #d4165c">39<small>%</small></b> recibió</div>
<div class="a" style="left:422.50px;top:263.50px;font-family:'Liberation Sans',sans-serif;font-size:11.000px;font-weight:normal;color:#575757;letter-spacing:-0.640px;transform:translateX(0) scale(0.50000,0.50000);transform-origin:0 9px;">un diagnóstico</div>
<div class="a" style="left:422.50px;top:269.00px;font-family:'Liberation Sans',sans-serif;font-size:11.000px;font-weight:normal;color:#575757;letter-spacing:-1.441px;transform:translateX(0) scale(0.50000,0.50000);transform-origin:0 9px;">de PNDD.</div>
<div class="a" style="left:406.00px;top:299.60px;font-family:'Liberation Sans',sans-serif;font-size:11.000px;font-weight:normal;color:#575757;letter-spacing:-0.523px;transform:translateX(0) scale(0.50000,0.50000);transform-origin:0 9px;"><b class="pc" style="font-size:17.600px;-webkit-text-stroke:0.400px #d4165c">23<small>%</small></b> se automedicaban</div>
<div class="a" style="left:406.00px;top:305.20px;font-family:'Liberation Sans',sans-serif;font-size:11.000px;font-weight:normal;color:#575757;letter-spacing:-0.694px;transform:translateX(0) scale(0.50000,0.50000);transform-origin:0 9px;">en caso de dolor.</div>
<div class="a" style="left:185.00px;top:327.50px;font-family:'Liberation Sans',sans-serif;font-size:10.800px;font-weight:bold;color:#d4165c;letter-spacing:-0.367px;transform:translateX(0) scale(0.50000,0.50000);transform-origin:0 9px;">Impacto en la calidad de vida:</div>
<div class="a" style="left:369.80px;top:327.20px;font-family:'Liberation Sans',sans-serif;font-size:10.800px;font-weight:bold;color:#d4165c;letter-spacing:-0.436px;transform:translateX(0) scale(0.50000,0.50000);transform-origin:0 9px;">Expectativas sobre el tratamiento:</div>
<div class="a" style="left:190.00px;top:338.20px;font-family:'Liberation Sans',sans-serif;font-size:10.600px;font-weight:normal;color:#575757;letter-spacing:-0.483px;transform:translateX(0) scale(0.50000,0.50000);transform-origin:0 9px;"><b class="pc" style="font-size:18.400px;-webkit-text-stroke:0.400px #d4165c">29<small>%</small></b> en la capacidad de hacer ejercicio.</div>
<div class="a" style="left:190.00px;top:349.00px;font-family:'Liberation Sans',sans-serif;font-size:10.600px;font-weight:normal;color:#575757;letter-spacing:-0.729px;transform:translateX(0) scale(0.50000,0.50000);transform-origin:0 9px;"><b class="pc" style="font-size:18.400px;-webkit-text-stroke:0.400px #d4165c">28<small>%</small></b> en el sueño.</div>
<div class="a" style="left:190.00px;top:359.70px;font-family:'Liberation Sans',sans-serif;font-size:10.600px;font-weight:normal;color:#575757;letter-spacing:-0.571px;transform:translateX(0) scale(0.50000,0.50000);transform-origin:0 9px;"><b class="pc" style="font-size:18.400px;-webkit-text-stroke:0.400px #d4165c">19<small>%</small></b> en actividades cotidianas.</div>
<div class="a" style="left:190.00px;top:370.90px;font-family:'Liberation Sans',sans-serif;font-size:10.600px;font-weight:normal;color:#575757;letter-spacing:-0.609px;transform:translateX(0) scale(0.50000,0.50000);transform-origin:0 9px;"><b class="pc" style="font-size:18.400px;-webkit-text-stroke:0.400px #d4165c">52<small>%</small></b> habían perdido al menos</div>
<div class="a" style="left:190.00px;top:376.10px;font-family:'Liberation Sans',sans-serif;font-size:10.600px;font-weight:normal;color:#575757;letter-spacing:-0.522px;transform:translateX(0) scale(0.50000,0.50000);transform-origin:0 9px;">5 días de trabajo debido al dolor.</div>
<div class="a" style="left:374.00px;top:338.10px;font-family:'Liberation Sans',sans-serif;font-size:10.600px;font-weight:normal;color:#575757;letter-spacing:-0.663px;transform:translateX(0) scale(0.50000,0.50000);transform-origin:0 9px;"><b class="pc" style="font-size:18.400px;-webkit-text-stroke:0.400px #d4165c">59<small>%</small></b> desaparición del dolor.</div>
<div class="a" style="left:374.00px;top:348.80px;font-family:'Liberation Sans',sans-serif;font-size:10.600px;font-weight:normal;color:#575757;letter-spacing:-0.549px;transform:translateX(0) scale(0.50000,0.50000);transform-origin:0 9px;"><b class="pc" style="font-size:18.400px;-webkit-text-stroke:0.400px #d4165c">57<small>%</small></b> prevención de síntomas</div>
<div class="a" style="left:374.00px;top:354.30px;font-family:'Liberation Sans',sans-serif;font-size:10.600px;font-weight:normal;color:#575757;letter-spacing:-0.476px;transform:translateX(0) scale(0.50000,0.50000);transform-origin:0 9px;">y reducción de su frecuencia.</div>
<div class="a" style="left:374.00px;top:366.10px;font-family:'Liberation Sans',sans-serif;font-size:10.600px;font-weight:normal;color:#575757;letter-spacing:-0.588px;transform:translateX(0) scale(0.50000,0.50000);transform-origin:0 9px;"><b class="pc" style="font-size:18.400px;-webkit-text-stroke:0.400px #d4165c">51<small>%</small></b> recuperación de actividades cotidianas.</div>
<div class="a" style="left:374.00px;top:376.80px;font-family:'Liberation Sans',sans-serif;font-size:10.600px;font-weight:normal;color:#575757;letter-spacing:-0.704px;transform:translateX(0) scale(0.50000,0.50000);transform-origin:0 9px;"><b class="pc" style="font-size:18.400px;-webkit-text-stroke:0.400px #d4165c">42<small>%</small></b> recuperación del sueño.</div>
<div class="a" style="left:286.50px;top:377.60px;font-family:'Liberation Serif',serif;font-size:19.600px;font-weight:bold;color:#d4165c;letter-spacing:0.000px;transform:translateX(0) scale(0.51639,0.50000);transform-origin:0 16px;-webkit-text-stroke:0.800px currentColor;">Conclusiones:<sup style="font-size:11.000px">3</sup></div>
<div class="a" style="left:201.70px;top:421.40px;font-family:'Liberation Sans',sans-serif;font-size:8.600px;font-weight:normal;color:#555;letter-spacing:-0.227px;transform:translateX(-50%) scale(0.50000,0.50000);transform-origin:50% 7px;">Existe un elevado porcentaje</div>
<div class="a" style="left:201.70px;top:426.50px;font-family:'Liberation Sans',sans-serif;font-size:8.600px;font-weight:normal;color:#555;letter-spacing:-0.398px;transform:translateX(-50%) scale(0.50000,0.50000);transform-origin:50% 7px;">de personas con diabetes que</div>
<div class="a" style="left:201.70px;top:431.50px;font-family:'Liberation Sans',sans-serif;font-size:8.600px;font-weight:normal;color:#555;letter-spacing:-0.424px;transform:translateX(-50%) scale(0.50000,0.50000);transform-origin:50% 7px;">tienen síntomas compatibles con</div>
<div class="a" style="left:201.70px;top:436.50px;font-family:'Liberation Sans',sans-serif;font-size:8.600px;font-weight:normal;color:#555;letter-spacing:-0.470px;transform:translateX(-50%) scale(0.50000,0.50000);transform-origin:50% 7px;">PNDD y no han sido diagnosticados.</div>
<div class="a" style="left:278.40px;top:425.50px;font-family:'Liberation Sans',sans-serif;font-size:8.600px;font-weight:normal;color:#555;letter-spacing:-0.425px;transform:translateX(-50%) scale(0.50000,0.50000);transform-origin:50% 7px;">La repercusión de la PNDD</div>
<div class="a" style="left:278.40px;top:430.50px;font-family:'Liberation Sans',sans-serif;font-size:8.600px;font-weight:normal;color:#555;letter-spacing:-0.337px;transform:translateX(-50%) scale(0.50000,0.50000);transform-origin:50% 7px;">en la calidad de vida de quienes</div>
<div class="a" style="left:278.40px;top:435.30px;font-family:'Liberation Sans',sans-serif;font-size:8.600px;font-weight:normal;color:#555;letter-spacing:-0.281px;transform:translateX(-50%) scale(0.50000,0.50000);transform-origin:50% 7px;">la sufren es alta.</div>
<div class="a" style="left:355.00px;top:419.10px;font-family:'Liberation Sans',sans-serif;font-size:8.600px;font-weight:normal;color:#555;letter-spacing:-0.596px;transform:translateX(-50%) scale(0.50000,0.50000);transform-origin:50% 7px;">Es necesaria una mayor comprensión</div>
<div class="a" style="left:355.00px;top:424.10px;font-family:'Liberation Sans',sans-serif;font-size:8.600px;font-weight:normal;color:#555;letter-spacing:-0.308px;transform:translateX(-50%) scale(0.50000,0.50000);transform-origin:50% 7px;">por parte de los profesionales</div>
<div class="a" style="left:355.00px;top:429.00px;font-family:'Liberation Sans',sans-serif;font-size:8.600px;font-weight:normal;color:#555;letter-spacing:-0.399px;transform:translateX(-50%) scale(0.50000,0.50000);transform-origin:50% 7px;">sanitarios del impacto que tiene la</div>
<div class="a" style="left:355.00px;top:434.00px;font-family:'Liberation Sans',sans-serif;font-size:8.600px;font-weight:normal;color:#555;letter-spacing:-0.615px;transform:translateX(-50%) scale(0.50000,0.50000);transform-origin:50% 7px;">PNDD en las personas con diabetes.</div>
<div class="a" style="left:431.50px;top:423.50px;font-family:'Liberation Sans',sans-serif;font-size:8.600px;font-weight:normal;color:#555;letter-spacing:-0.475px;transform:translateX(-50%) scale(0.50000,0.50000);transform-origin:50% 7px;">Es importante que los profesionales</div>
<div class="a" style="left:431.50px;top:428.50px;font-family:'Liberation Sans',sans-serif;font-size:8.600px;font-weight:normal;color:#555;letter-spacing:-0.403px;transform:translateX(-50%) scale(0.50000,0.50000);transform-origin:50% 7px;">sanitarios revisen los pies de las</div>
<div class="a" style="left:431.50px;top:433.40px;font-family:'Liberation Sans',sans-serif;font-size:8.600px;font-weight:normal;color:#555;letter-spacing:-0.585px;transform:translateX(-50%) scale(0.50000,0.50000);transform-origin:50% 7px;">personas con diabetes.</div>
<div class="a" style="left:201.70px;top:443.20px;font-family:'Liberation Sans',sans-serif;font-size:18.400px;font-weight:bold;color:#1e1e1e;letter-spacing:0.000px;transform:translateX(-50%) scale(0.50000,0.50000);transform-origin:50% 15px;-webkit-text-stroke:0.400px currentColor;">01</div>
<div class="a" style="left:278.40px;top:443.20px;font-family:'Liberation Sans',sans-serif;font-size:18.400px;font-weight:bold;color:#1e1e1e;letter-spacing:0.000px;transform:translateX(-50%) scale(0.50000,0.50000);transform-origin:50% 15px;-webkit-text-stroke:0.400px currentColor;">02</div>
<div class="a" style="left:355.00px;top:443.20px;font-family:'Liberation Sans',sans-serif;font-size:18.400px;font-weight:bold;color:#1e1e1e;letter-spacing:0.000px;transform:translateX(-50%) scale(0.50000,0.50000);transform-origin:50% 15px;-webkit-text-stroke:0.400px currentColor;">03</div>
<div class="a" style="left:431.50px;top:443.20px;font-family:'Liberation Sans',sans-serif;font-size:18.400px;font-weight:bold;color:#1e1e1e;letter-spacing:0.000px;transform:translateX(-50%) scale(0.50000,0.50000);transform-origin:50% 15px;-webkit-text-stroke:0.400px currentColor;">04</div>
<div class="a" style="left:156.60px;top:466.80px;font-family:'Liberation Sans',sans-serif;font-size:6.800px;font-weight:normal;color:#6a6a6a;letter-spacing:0.000px;transform:translateX(0) scale(0.40667,0.50000);transform-origin:0 5px;">*67% estaba entre 35-55 años, 46% mujeres, 46% Diabetes Mellitus tipo 2 y 54% Diabetes Mellitus Tipo 1. 52% diagnosticados en los últimos 10 años.</div>
<div class="a" style="left:156.60px;top:471.40px;font-family:'Liberation Sans',sans-serif;font-size:6.800px;font-weight:normal;color:#6a6a6a;letter-spacing:0.000px;transform:translateX(0) scale(0.39201,0.50000);transform-origin:0 5px;">**Encuesta online en cuya elaboración participaron pacientes, médicos y enfermeras de diferentes países europeos (Holanda, España, Alemania y Reino Unido). Abogados en el conocimiento de la enfermedad, tratamiento, interacción con el profesional sanitario e impacto.</div>
<div class="a" style="left:156.60px;top:476.10px;font-family:'Liberation Sans',sans-serif;font-size:6.800px;font-weight:normal;color:#6a6a6a;letter-spacing:0.000px;transform:translateX(0) scale(0.40031,0.50000);transform-origin:0 5px;"><b>BIBLIOGRAFÍA. 1.</b> Javed S, Petropoulos IN, Alam U, Malik RA. Treatment of painful diabetic neuropathy. Ther Adv Chronic Dis. 2015;6(1):15-28. <b>2.</b> Alleman CJ, Westerhout KY, Hensen M, et al. Humanistic and economic burden of painful diabetic peripheral neuropathy.</div>
<div class="a" style="left:156.60px;top:479.70px;font-family:'Liberation Sans',sans-serif;font-size:6.800px;font-weight:normal;color:#6a6a6a;letter-spacing:0.000px;transform:translateX(0) scale(0.41196,0.50000);transform-origin:0 5px;">Europe: A review of the literature. Diabetes Res Clin Pract. 2015;109(2):215-25. <b>3.</b> Schreiber AK, Nones CF, Reis RC, Chichorro JG, Cunha JM. Diabetic neuropathic pain: Physiopathology and treatment. World J Diabetes. 2015;6(3):432-44. <b>4.</b> Ziegler D, Keller J.</div>
<div class="a" style="left:156.60px;top:483.20px;font-family:'Liberation Sans',sans-serif;font-size:6.800px;font-weight:normal;color:#6a6a6a;letter-spacing:0.000px;transform:translateX(0) scale(0.36107,0.50000);transform-origin:0 5px;">diabetes y dolor neuropático en España: estudio transversal en atención primaria. Enfermedad y neuropatía diabética. 2018;2(3):102-10. <b>5.</b> Rodríguez Rivera M, Fisas Díez M. Guía de neuropatía diabética y dolor neuropático. [Internet]. Organización Médica Colegial (OMC) y Ministerio de Sanidad,</div>
<div class="a" style="left:156.60px;top:486.70px;font-family:'Liberation Sans',sans-serif;font-size:6.800px;font-weight:normal;color:#6a6a6a;letter-spacing:0.000px;transform:translateX(0) scale(0.44767,0.50000);transform-origin:0 5px;">Servicios Sociales e Igualdad. 2015. [Citado 20 jul 2018]. Disponible en: www.cgcom.es/sites/default/files/guia_dolor_neuropatico.pdf</div>
<div class="a" style="left:229.50px;top:504.00px;font-family:'Liberation Serif',serif;font-size:10.000px;font-weight:normal;color:#d4165c;letter-spacing:-0.784px;transform:translateX(0) scale(0.50000,0.50000);transform-origin:0 8px;font-style:italic;">Patrocinado por Grünenthal y <b>uno al lado de</b></div>
</body></html>
